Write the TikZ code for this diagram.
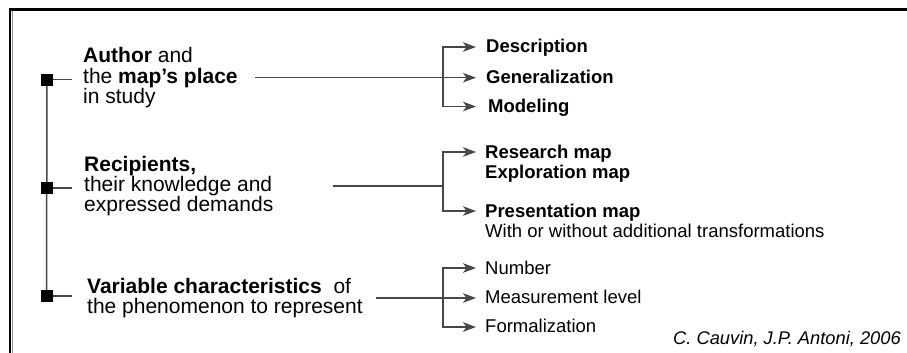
\documentclass[tikz,border=0pt]{standalone}
\usepackage{fontspec}
\setmainfont{Liberation Sans}
\usetikzlibrary{arrows.meta,backgrounds}
\begin{document}
\begin{tikzpicture}[x=1pt,y=-1pt,
  lt/.style={anchor=base west,inner sep=0pt,font=\fontsize{21}{21}\selectfont},
  rt/.style={anchor=base west,inner sep=0pt,font=\fontsize{18.5}{20}\selectfont},
  conn/.style={draw=black!72,line width=1.5pt},
  arr/.style={conn,-{Stealth[length=13pt,width=9.5pt,inset=3.5pt]}},
  sq/.style={fill=black,minimum size=12pt,inner sep=0pt,draw=none}]
\useasboundingbox (0,0) rectangle (907,353);

% left spine
\node[sq] (s1) at (47,79.5) {};
\node[sq] (s2) at (47,188) {};
\node[sq] (s3) at (46.5,296) {};
\coordinate (t1) at (72,79.5);
\coordinate (t2) at (72,188);
\coordinate (t3) at (72,296);
\begin{scope}[on background layer]
\fill[white] (0,0) rectangle (907,353);
\draw[black!45,line width=1pt] (12,353) -- (12,11) -- (907,11);
\draw[line width=2.5pt] (10,353) -- (10,9.5) -- (907,9.5);
\draw[conn] (s1.center) -- (s3.center);
\draw[conn] (s1.center) -- (t1);
\draw[conn] (s2.center) -- (t2);
\draw[conn] (s3.center) -- (t3);
\end{scope}

% left texts
\node[lt] (a1) at (83,62.7) {\textbf{Author} and};
\node[lt] (a2) at (83,83.3) {the \textbf{map’s place}};
\node[lt] (a3) at (83,103.3) {in study};
\node[lt] (b1) at (84,171.7) {\textbf{Recipients,}};
\node[lt] (b2) at (84,191.7) {their knowledge and};
\node[lt] (b3) at (84,211.7) {expressed demands};
\node[lt] (c1) at (87,293) {\textbf{Variable characteristics}\ \ of};
\node[lt] (c2) at (87,313) {the phenomenon to represent};

% group 1
\coordinate (h1) at (255,77.7);
\coordinate (j1) at (443,77.7);
\coordinate (p1a) at (476,47);
\coordinate (p1b) at (476,77.7);
\coordinate (p1c) at (476,106.5);
\draw[conn] (h1) -- (j1);
\draw[arr] (j1) |- (p1a);
\draw[arr] (j1) -- (p1b);
\draw[arr] (j1) |- (p1c);
\node[rt] (d1) at (486,52.3) {\textbf{Description}};
\node[rt] (d2) at (486,83) {\textbf{Generalization}};
\node[rt] (d3) at (488,112.5) {\textbf{Modeling}};

% group 2
\coordinate (h2) at (333,186);
\coordinate (j2) at (443,186);
\coordinate (p2a) at (476,152);
\coordinate (p2b) at (476,211);
\draw[conn] (h2) -- (j2);
\draw[arr] (j2) |- (p2a);
\draw[arr] (j2) |- (p2b);
\node[rt] (e1) at (485,158) {\textbf{Research map}};
\node[rt] (e2) at (485,178) {\textbf{Exploration map}};
\node[rt] (e3) at (485,217) {\textbf{Presentation map}};
\node[rt] (e4) at (485,237) {With or without additional transformations};

% group 3
\coordinate (h3) at (376,298);
\coordinate (j3) at (443,298);
\coordinate (p3a) at (476,268);
\coordinate (p3b) at (476,298);
\coordinate (p3c) at (476,327);
\draw[conn] (h3) -- (j3);
\draw[arr] (j3) |- (p3a);
\draw[arr] (j3) -- (p3b);
\draw[arr] (j3) |- (p3c);
\node[rt] (f1) at (485,274) {Number};
\node[rt] (f2) at (485,303.5) {Measurement level};
\node[rt] (f3) at (485,332.5) {Formalization};

\node[rt,font=\fontsize{18.3}{20}\selectfont\itshape] (cite) at (673,344) {C. Cauvin, J.P. Antoni, 2006};
\end{tikzpicture}
\end{document}
